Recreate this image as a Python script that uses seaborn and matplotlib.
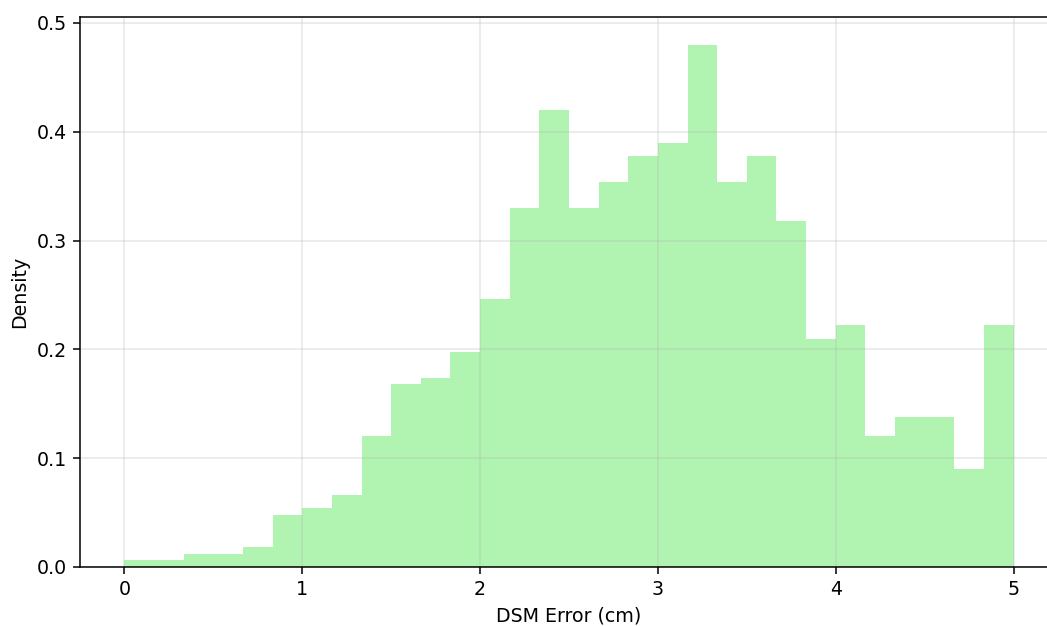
import numpy as np
import pandas as pd
import matplotlib
matplotlib.use("Agg")
import matplotlib.pyplot as plt
import seaborn as sns

# Histogram bins (30 bins from 0 to 5 cm) and counts
bin_lo, bin_hi, n_bins = 0.0, 5.0, 30
bin_counts = [1, 1, 2, 2, 3, 8, 9, 11, 20, 28, 29, 33, 41, 55, 70,
              55, 59, 63, 65, 80, 59, 63, 53, 35, 37, 20, 23, 23, 15, 37]
bin_edges = np.linspace(bin_lo, bin_hi, n_bins + 1)
bin_centers = (bin_edges[:-1] + bin_edges[1:]) / 2

df = pd.DataFrame({"DSM Error (cm)": bin_centers, "n": bin_counts})

plt.rcParams["font.family"] = ["DejaVu Sans"]
DPI = 137
fig = plt.figure(figsize=(1047 / DPI, 626 / DPI), dpi=DPI)
ax = fig.add_axes([80 / 1047, 1 - 567 / 626, (1058 - 80) / 1047, (567 - 17) / 626])

sns.histplot(data=df, x="DSM Error (cm)", weights="n", bins=n_bins,
             binrange=(bin_lo, bin_hi),
             stat="density", element="step", fill=True,
             color="lightgreen", alpha=0.7, linewidth=0, ax=ax)

ax.grid(True, alpha=0.3)
ax.set_xlabel("DSM Error (cm)")
ax.set_ylabel("Density")
ax.set_yticks([0.0, 0.1, 0.2, 0.3, 0.4, 0.5])
ax.set_xticks([0, 1, 2, 3, 4, 5])
ax.set_xlim(-0.25, 5.25)
ax.set_ylim(0, 0.5055)

fig.savefig("out.png", dpi=DPI)
